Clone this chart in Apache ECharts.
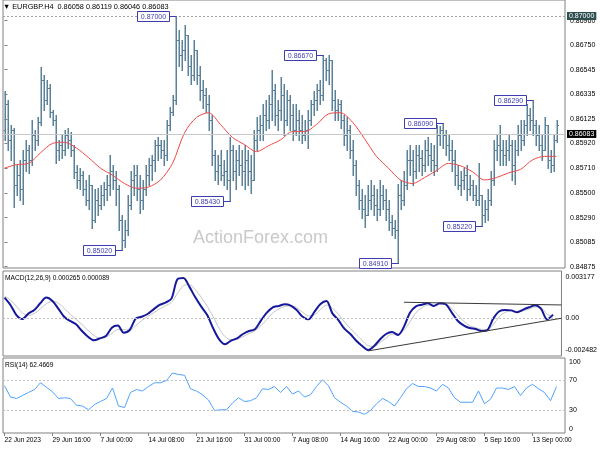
<!DOCTYPE html>
<html><head><meta charset="utf-8">
<script src="https://cdn.jsdelivr.net/npm/echarts@6/dist/echarts.min.js"></script>
<style>html,body{margin:0;padding:0;background:#fff}#c{width:600px;height:450px}</style>
</head><body><div id="c"></div>
<script>
// 8-hour bars (index i), EURGBP
const barOpen=[0.8603,0.8625,0.8595,0.8603,0.8557,0.8565,0.8553,0.8578,0.8586,0.8578,0.8599,0.8595,0.8610,0.8646,0.8629,0.8639,0.8619,0.8612,0.8586,0.8591,0.8586,0.8599,0.8595,0.8586,0.8568,0.8561,0.8565,0.8553,0.8544,0.8557,0.8527,0.8544,0.8540,0.8548,0.8553,0.8557,0.8569,0.8561,0.8553,0.8527,0.8510,0.8519,0.8540,0.8561,0.8565,0.8553,0.8544,0.8553,0.8565,0.8574,0.8578,0.8591,0.8591,0.8586,0.8582,0.8608,0.8619,0.8629,0.8680,0.8667,0.8671,0.8684,0.8658,0.8650,0.8671,0.8650,0.8637,0.8633,0.8625,0.8612,0.8582,0.8569,0.8574,0.8565,0.8569,0.8561,0.8586,0.8569,0.8578,0.8574,0.8569,0.8578,0.8569,0.8561,0.8595,0.8603,0.8608,0.8616,0.8612,0.8625,0.8637,0.8616,0.8620,0.8633,0.8612,0.8629,0.8616,0.8603,0.8612,0.8603,0.8599,0.8603,0.8612,0.8625,0.8629,0.8637,0.8633,0.8663,0.8654,0.8663,0.8629,0.8620,0.8625,0.8612,0.8599,0.8603,0.8586,0.8574,0.8557,0.8544,0.8536,0.8531,0.8544,0.8548,0.8540,0.8536,0.8548,0.8544,0.8536,0.8525,0.8520,0.8519,0.8548,0.8544,0.8557,0.8578,0.8578,0.8569,0.8582,0.8580,0.8574,0.8586,0.8582,0.8578,0.8574,0.8599,0.8603,0.8599,0.8591,0.8586,0.8578,0.8565,0.8557,0.8561,0.8565,0.8553,0.8557,0.8548,0.8544,0.8548,0.8531,0.8536,0.8544,0.8561,0.8586,0.8591,0.8586,0.8582,0.8586,0.8591,0.8574,0.8586,0.8599,0.8595,0.8608,0.8616,0.8612,0.8608,0.8599,0.8591,0.8586,0.8608,0.8578,0.8574,0.8595];
const barHigh=[0.8636,0.8629,0.8608,0.8605,0.8574,0.8578,0.8586,0.8595,0.8591,0.8612,0.8603,0.8614,0.8657,0.8650,0.8646,0.8642,0.8620,0.8616,0.8595,0.8599,0.8603,0.8605,0.8602,0.8591,0.8574,0.8571,0.8569,0.8561,0.8565,0.8557,0.8553,0.8554,0.8557,0.8559,0.8565,0.8582,0.8574,0.8569,0.8557,0.8531,0.8527,0.8548,0.8569,0.8574,0.8574,0.8565,0.8561,0.8574,0.8580,0.8582,0.8595,0.8597,0.8595,0.8595,0.8612,0.8623,0.8633,0.8700,0.8688,0.8680,0.8692,0.8684,0.8667,0.8680,0.8671,0.8658,0.8646,0.8639,0.8633,0.8616,0.8586,0.8582,0.8586,0.8578,0.8586,0.8597,0.8591,0.8586,0.8591,0.8586,0.8591,0.8586,0.8582,0.8603,0.8614,0.8616,0.8625,0.8629,0.8633,0.8654,0.8642,0.8629,0.8648,0.8642,0.8637,0.8633,0.8625,0.8625,0.8620,0.8616,0.8612,0.8620,0.8629,0.8636,0.8642,0.8646,0.8667,0.8664,0.8667,0.8663,0.8637,0.8630,0.8629,0.8616,0.8614,0.8608,0.8595,0.8578,0.8561,0.8553,0.8548,0.8557,0.8561,0.8557,0.8553,0.8561,0.8557,0.8553,0.8544,0.8531,0.8527,0.8558,0.8561,0.8569,0.8586,0.8591,0.8586,0.8591,0.8591,0.8586,0.8595,0.8597,0.8592,0.8591,0.8608,0.8607,0.8609,0.8603,0.8599,0.8595,0.8586,0.8574,0.8569,0.8571,0.8574,0.8565,0.8561,0.8557,0.8575,0.8548,0.8544,0.8553,0.8569,0.8595,0.8599,0.8608,0.8595,0.8595,0.8599,0.8595,0.8595,0.8608,0.8612,0.8612,0.8625,0.8622,0.8629,0.8612,0.8608,0.8599,0.8614,0.8608,0.8586,0.8599,0.8612];
const barLow=[0.8595,0.8586,0.8578,0.8538,0.8548,0.8544,0.8541,0.8569,0.8567,0.8574,0.8586,0.8591,0.8608,0.8620,0.8625,0.8614,0.8608,0.8575,0.8578,0.8580,0.8582,0.8588,0.8581,0.8563,0.8554,0.8553,0.8548,0.8540,0.8536,0.8520,0.8525,0.8531,0.8536,0.8540,0.8544,0.8548,0.8553,0.8540,0.8519,0.8502,0.8504,0.8514,0.8536,0.8548,0.8544,0.8533,0.8536,0.8548,0.8557,0.8561,0.8569,0.8578,0.8580,0.8574,0.8578,0.8603,0.8616,0.8625,0.8658,0.8654,0.8663,0.8650,0.8642,0.8646,0.8642,0.8629,0.8622,0.8619,0.8603,0.8574,0.8561,0.8558,0.8561,0.8557,0.8553,0.8543,0.8561,0.8553,0.8565,0.8557,0.8553,0.8557,0.8550,0.8561,0.8586,0.8595,0.8595,0.8603,0.8605,0.8612,0.8608,0.8603,0.8612,0.8599,0.8608,0.8603,0.8595,0.8599,0.8595,0.8592,0.8595,0.8588,0.8608,0.8616,0.8620,0.8625,0.8629,0.8646,0.8642,0.8620,0.8612,0.8612,0.8605,0.8591,0.8586,0.8580,0.8565,0.8548,0.8536,0.8529,0.8521,0.8531,0.8536,0.8531,0.8527,0.8531,0.8536,0.8527,0.8519,0.8514,0.8512,0.8491,0.8536,0.8540,0.8553,0.8565,0.8557,0.8563,0.8569,0.8565,0.8569,0.8574,0.8569,0.8565,0.8569,0.8591,0.8588,0.8582,0.8578,0.8569,0.8557,0.8553,0.8548,0.8553,0.8544,0.8548,0.8544,0.8540,0.8540,0.8522,0.8525,0.8527,0.8540,0.8557,0.8578,0.8574,0.8574,0.8574,0.8578,0.8561,0.8558,0.8582,0.8586,0.8591,0.8599,0.8603,0.8599,0.8591,0.8586,0.8578,0.8586,0.8571,0.8568,0.8569,0.8593];
const barClose=[0.8625,0.8595,0.8603,0.8557,0.8565,0.8553,0.8578,0.8586,0.8578,0.8599,0.8595,0.8610,0.8646,0.8629,0.8639,0.8619,0.8612,0.8586,0.8591,0.8586,0.8599,0.8595,0.8586,0.8568,0.8561,0.8565,0.8553,0.8544,0.8557,0.8527,0.8544,0.8540,0.8548,0.8553,0.8557,0.8569,0.8561,0.8553,0.8527,0.8510,0.8519,0.8540,0.8561,0.8565,0.8553,0.8544,0.8553,0.8565,0.8574,0.8578,0.8591,0.8591,0.8586,0.8582,0.8608,0.8619,0.8629,0.8680,0.8667,0.8671,0.8684,0.8658,0.8650,0.8671,0.8650,0.8637,0.8633,0.8625,0.8612,0.8582,0.8569,0.8574,0.8565,0.8569,0.8561,0.8586,0.8569,0.8578,0.8574,0.8569,0.8578,0.8569,0.8561,0.8595,0.8603,0.8608,0.8616,0.8612,0.8625,0.8637,0.8616,0.8620,0.8633,0.8612,0.8629,0.8616,0.8603,0.8612,0.8603,0.8599,0.8603,0.8612,0.8625,0.8629,0.8637,0.8633,0.8663,0.8654,0.8663,0.8629,0.8620,0.8625,0.8612,0.8599,0.8603,0.8586,0.8574,0.8557,0.8544,0.8536,0.8531,0.8544,0.8548,0.8540,0.8536,0.8548,0.8544,0.8536,0.8525,0.8520,0.8519,0.8548,0.8544,0.8557,0.8578,0.8578,0.8569,0.8582,0.8580,0.8574,0.8586,0.8582,0.8578,0.8574,0.8599,0.8603,0.8599,0.8591,0.8586,0.8578,0.8565,0.8557,0.8561,0.8565,0.8553,0.8557,0.8548,0.8544,0.8548,0.8531,0.8536,0.8544,0.8561,0.8586,0.8591,0.8586,0.8582,0.8586,0.8591,0.8574,0.8586,0.8599,0.8595,0.8608,0.8616,0.8612,0.8608,0.8599,0.8591,0.8586,0.8608,0.8578,0.8574,0.8595,0.8608];
// moving average, one value every 4 bars
const maStep=4;
const maValues=[0.8571,0.8574,0.8575,0.8584,0.8592,0.8593,0.8588,0.8580,0.8571,0.8565,0.8558,0.8554,0.8555,0.8561,0.8575,0.8601,0.8614,0.8618,0.8608,0.8597,0.8591,0.8585,0.8590,0.8595,0.8602,0.8602,0.8608,0.8617,0.8618,0.8610,0.8596,0.8581,0.8571,0.8561,0.8558,0.8563,0.8569,0.8575,0.8573,0.8568,0.8561,0.8563,0.8567,0.8570,0.8578,0.8581,0.8581];
// indicators, one value every 2 bars
const indStep=2;
const macdValues=[0.00158,0.00101,0.00023,-0.00008,0.00034,0.00062,0.00114,0.00158,0.00134,0.00075,0.00010,-0.00023,-0.00049,-0.00101,-0.00145,-0.00173,-0.00158,-0.00140,-0.00075,-0.00059,-0.00114,-0.00093,-0.00005,0.00010,0.00031,0.00067,0.00101,0.00119,0.00150,0.00300,0.00310,0.00243,0.00160,0.00088,0.00023,-0.00080,-0.00165,-0.00204,-0.00176,-0.00158,-0.00124,-0.00101,-0.00088,-0.00021,0.00041,0.00083,0.00093,0.00106,0.00096,0.00062,0.00010,-0.00010,0.00049,0.00109,0.00132,0.00036,-0.00016,-0.00083,-0.00124,-0.00176,-0.00217,-0.00248,-0.00217,-0.00165,-0.00124,-0.00109,-0.00132,-0.00067,0.00041,0.00090,0.00103,0.00114,0.00093,0.00114,0.00106,0.00044,-0.00021,-0.00057,-0.00078,-0.00085,-0.00101,-0.00093,-0.00003,0.00052,0.00062,0.00059,0.00044,0.00065,0.00083,0.00098,0.00070,-0.00010,0.00026];
const signalValues=[0.00170,0.00140,0.00090,0.00040,0.00020,0.00035,0.00070,0.00110,0.00130,0.00115,0.00075,0.00030,-0.00010,-0.00050,-0.00095,-0.00135,-0.00155,-0.00150,-0.00120,-0.00090,-0.00090,-0.00095,-0.00060,-0.00020,0.00010,0.00040,0.00070,0.00095,0.00120,0.00190,0.00250,0.00260,0.00220,0.00160,0.00090,0.00010,-0.00080,-0.00145,-0.00170,-0.00165,-0.00145,-0.00120,-0.00100,-0.00060,-0.00010,0.00040,0.00070,0.00090,0.00095,0.00080,0.00045,0.00015,0.00025,0.00065,0.00100,0.00075,0.00030,-0.00030,-0.00080,-0.00130,-0.00175,-0.00215,-0.00220,-0.00190,-0.00155,-0.00125,-0.00125,-0.00095,-0.00030,0.00040,0.00080,0.00100,0.00100,0.00105,0.00105,0.00075,0.00025,-0.00025,-0.00060,-0.00075,-0.00090,-0.00092,-0.00050,0.00010,0.00045,0.00055,0.00050,0.00055,0.00070,0.00085,0.00080,0.00030,0.00009];
const rsiValues=[63,48,46,50,54,58,67,61,55,46,47,46,37,36,31,38,42,46,60,36,34,54,58,56,62,67,67,70,80,78,77,59,56,51,44,30,31,31,40,47,42,43,47,59,58,62,54,62,52,56,48,51,62,71,63,47,41,36,29,28,25,30,39,46,42,36,47,59,66,62,62,60,56,65,60,47,41,41,41,56,39,45,60,60,58,62,50,60,65,59,54,43,62];
// axis ticks / labels
const priceTicks=[0.86960,0.86750,0.86545,0.86335,0.86125,0.85920,0.85710,0.85500,0.85290,0.85085,0.84875];
const macdTicks=[0.003177,0,-0.002482];
const rsiTicks=[100,70,30,0];
const rsiLevels=[70,30];
const dateTickIdx=[0,16,32,48,64,80,96,112,128,144,160,176];
const dateLabels=['22 Jun 2023','29 Jun 16:00','7 Jul 00:00','14 Jul 08:00','21 Jul 16:00','31 Jul 00:00','7 Aug 08:00','14 Aug 16:00','22 Aug 00:00','29 Aug 08:00','5 Sep 16:00','13 Sep 00:00'];
// swing high / low tags [bar index, price]
const swingTags=[[39,0.85020],[57,0.87000],[75,0.85430],[106,0.86670],[131,0.84910],[146,0.86090],[159,0.85220],[176,0.86290]];
const topLevel=0.87000;
const lastPrice=0.86083;
const macdResistance=[[134,0.00122],[186.8,0.00101]];
const macdSupport=[[122,-0.00255],[186.8,-0.00002]];

const FONT='Liberation Sans, Arial, sans-serif';
const barColor='#5b8198';
const xMin=-0.5, xMax=186.83;

const ohlc=barOpen.map((o,i)=>[i,o,barHigh[i],barLow[i],barClose[i]]);
const maData=maValues.map((v,k)=>[k*maStep,v]);
const macdData=macdValues.map((v,k)=>[k*indStep,v]);
const sigData=signalValues.map((v,k)=>[k*indStep,v]);
const rsiData=rsiValues.map((v,k)=>[k*indStep,v]);

function renderBar(params, api){
  const i=api.value(0);
  const pO=api.coord([i,api.value(1)]), pH=api.coord([i,api.value(2)]), pL=api.coord([i,api.value(3)]), pC=api.coord([i,api.value(4)]);
  const x=Math.round(pH[0])+0.25;
  const yo=Math.round(pO[1])+0.5, yc=Math.round(pC[1])+0.5;
  return {type:'group',children:[
    {type:'line',shape:{x1:x,y1:Math.round(pH[1]),x2:x,y2:Math.round(pL[1])+1},style:{stroke:barColor,lineWidth:1.5}},
    {type:'line',shape:{x1:x-1.75,y1:yo,x2:x,y2:yo},style:{stroke:barColor,lineWidth:1}},
    {type:'line',shape:{x1:x,y1:yc,x2:x+1.75,y2:yc},style:{stroke:barColor,lineWidth:1}}
  ]};
}
function renderTag(params, api){
  const p=api.coord([api.value(0),api.value(1)]);
  const txt=api.value(1).toFixed(5);
  const w=32,h=10,gap=7;
  const xr=Math.round(p[0]-gap)+0.5, y=Math.round(p[1])+0.5;
  const col='#3d3db0';
  return {type:'group',children:[
    {type:'line',shape:{x1:xr,y1:y,x2:Math.round(p[0])+0.5,y2:y},style:{stroke:col,lineWidth:1}},
    {type:'rect',shape:{x:xr-w,y:y-h/2,width:w,height:h},style:{fill:'#fff',stroke:col,lineWidth:1}},
    {type:'text',x:xr-w/2,y:y+0.5,style:{text:txt,fill:col,font:'7px '+FONT,align:'center',verticalAlign:'middle'}}
  ]};
}

const gridBorder={show:true,borderColor:'#808080',borderWidth:1,backgroundColor:'transparent'};
const hiddenX=(gi)=>({type:'value',gridIndex:gi,min:xMin,max:xMax,axisLine:{show:false},axisTick:{show:false},axisLabel:{show:false},splitLine:{show:false}});

const option={
  animation:false,
  backgroundColor:'#fff',
  grid:[
    Object.assign({left:3,right:35,top:0,height:268},gridBorder),
    Object.assign({left:3,right:35,top:271,height:85},gridBorder),
    Object.assign({left:3,right:35,top:358,height:75},gridBorder)
  ],
  xAxis:[hiddenX(0),hiddenX(1),{
    type:'value',gridIndex:2,min:xMin,max:xMax,splitLine:{show:false},axisLine:{show:false},
    axisTick:{show:true,customValues:dateTickIdx,length:3,lineStyle:{color:'#808080'}},
    axisLabel:{show:true,customValues:dateTickIdx,align:'left',margin:4,fontSize:6.6,fontFamily:FONT,color:'#000',
      formatter:(v)=>{const k=dateTickIdx.indexOf(Math.round(v));return k>=0?dateLabels[k]:'';}}
  }],
  yAxis:[
    {type:'value',gridIndex:0,position:'right',min:0.848637,max:0.871356,splitLine:{show:false},axisLine:{show:false},
      axisTick:{show:true,customValues:priceTicks,length:3,lineStyle:{color:'#808080'}},
      axisLabel:{customValues:priceTicks,margin:5,fontSize:7,fontFamily:FONT,color:'#000',formatter:(v)=>v.toFixed(5)}},
    {type:'value',gridIndex:1,position:'right',min:-0.002946,max:0.003643,splitLine:{show:false},axisLine:{show:false},
      axisTick:{show:false},
      axisLabel:{customValues:macdTicks,margin:4,fontSize:7,fontFamily:FONT,color:'#000',formatter:(v)=>Math.abs(v)<1e-9?'0.00':v.toFixed(6)}},
    {type:'value',gridIndex:2,position:'right',min:0,max:100,splitLine:{show:false},axisLine:{show:false},
      axisTick:{show:false},
      axisLabel:{customValues:rsiTicks,margin:4,fontSize:7,fontFamily:FONT,color:'#000',
        formatter:(v)=>v===100?'{dn|100}':(v===0?'{up|0}':String(v)),
        rich:{dn:{padding:[8,0,0,0],fontSize:7,fontFamily:FONT,color:'#000'},up:{padding:[0,0,8,0],fontSize:7,fontFamily:FONT,color:'#000'}}}}
  ],
  graphic:[
    {type:'text',left:3,top:3,z:10,style:{text:'▼ EURGBP.H4  0.86058 0.86119 0.86046 0.86083',font:'7.3px '+FONT,fill:'#000'}},
    {type:'text',left:193,top:229,z:-1,style:{text:'ActionForex.com',font:'18px '+FONT,fill:'#c9c9c9'}},
    {type:'text',left:5,top:275,z:10,style:{text:'MACD(12,26,9) 0.000265 0.000089',font:'6.6px '+FONT,fill:'#000'}},
    {type:'text',left:5,top:362,z:10,style:{text:'RSI(14) 62.4669',font:'6.6px '+FONT,fill:'#000'}}
  ],
  series:[
    {type:'custom',xAxisIndex:0,yAxisIndex:0,renderItem:renderBar,data:ohlc,encode:{x:0,y:[1,2,3,4]},z:3,
      markLine:{symbol:'none',silent:true,z:5,data:[
        {yAxis:topLevel,lineStyle:{color:'#a0a0a0',type:[2,2],width:1},
          label:{position:'end',distance:2,formatter:()=>topLevel.toFixed(5),backgroundColor:'#2f4f4f',color:'#fff',padding:[1,2,0,2],fontSize:7,fontFamily:FONT}},
        {yAxis:lastPrice,lineStyle:{color:'#c8c8c8',type:'solid',width:1},
          label:{position:'end',distance:2,formatter:()=>lastPrice.toFixed(5),backgroundColor:'#000',color:'#fff',padding:[1,2,0,2],fontSize:7,fontFamily:FONT}}
      ]}},
    {type:'line',xAxisIndex:0,yAxisIndex:0,data:maData,smooth:0.3,showSymbol:false,lineStyle:{color:'#f04848',width:1},z:4},
    {type:'custom',xAxisIndex:0,yAxisIndex:0,renderItem:renderTag,data:swingTags,encode:{x:0,y:1},z:6},
    {type:'line',xAxisIndex:1,yAxisIndex:1,data:sigData,smooth:0.3,showSymbol:false,lineStyle:{color:'#c4c4c4',width:1},z:3,
      markLine:{symbol:'none',silent:true,label:{show:false},data:[{yAxis:0}],lineStyle:{color:'#c0c0c0',type:[2,2],width:1}}},
    {type:'line',xAxisIndex:1,yAxisIndex:1,data:macdData,smooth:0.3,showSymbol:false,lineStyle:{color:'#16189a',width:2},z:4},
    {type:'line',xAxisIndex:1,yAxisIndex:1,data:macdResistance,showSymbol:false,lineStyle:{color:'#3a3a3a',width:1},z:5},
    {type:'line',xAxisIndex:1,yAxisIndex:1,data:macdSupport,showSymbol:false,lineStyle:{color:'#3a3a3a',width:1},z:5},
    {type:'line',xAxisIndex:2,yAxisIndex:2,data:rsiData,showSymbol:false,lineStyle:{color:'#4fa3ff',width:1},z:4,
      markLine:{symbol:'none',silent:true,label:{show:false},data:rsiLevels.map(v=>({yAxis:v})),lineStyle:{color:'#c0c0c0',type:[2,2],width:1}}}
  ]
};
const chart=echarts.init(document.getElementById('c'),null,{renderer:'canvas'});
chart.setOption(option);
</script></body></html>
